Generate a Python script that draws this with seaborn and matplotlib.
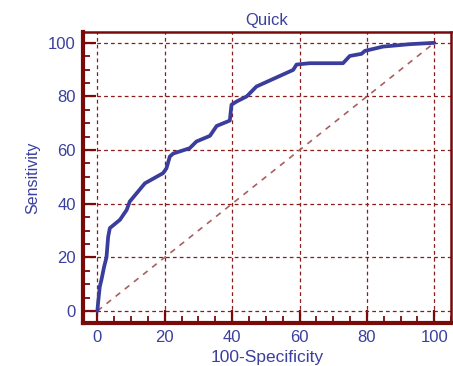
import matplotlib
matplotlib.use("Agg")
import matplotlib.pyplot as plt
import seaborn as sns
import pandas as pd
from matplotlib.ticker import MultipleLocator

sns.set_style("white")
plt.rcParams['font.family'] = ['Liberation Sans', 'DejaVu Sans']

# ROC curve points
fpr = [0, 0.2, 0.7, 1.2, 2.0, 2.7, 3.2, 3.7, 6.7, 8.7, 9.6, 14.1, 19.5, 20.5,
       21.5, 22.5, 27.4, 29.4, 33.4, 35.4, 39.3, 39.8, 41.3, 44.3, 47.2,
       58.1, 59.1, 63.0, 72.9, 74.9, 78.4, 79.4, 84.8, 92.7, 100]
tpr = [0, 2.9, 9.0, 11.6, 16.5, 20.0, 27.7, 30.9, 34.0, 37.7, 40.8, 47.6, 51.4, 53.2,
       57.6, 58.7, 60.7, 63.2, 65.3, 69.0, 71.0, 76.9, 78.1, 80.0, 83.7,
       89.9, 91.9, 92.4, 92.4, 95.1, 95.9, 97.0, 98.6, 99.5, 100]
diag = [0, 100]
ticks = [0, 20, 40, 60, 80, 100]

title = "Quick"
xlabel = "100-Specificity"
ylabel = "Sensitivity"

blue = "#3a3d9c"
dred = "#7a0a0a"
gridc = "#8a1c1c"
diagc = "#a86060"
textc = "#3b3f9e"

fig = plt.figure(figsize=(4.53, 3.66), dpi=100)
ax = fig.add_axes([0.183, 0.1175, 0.813, 0.7955])

df = pd.DataFrame({"x": fpr, "y": tpr})
ddf = pd.DataFrame({"x": diag, "y": diag})

ax.set_xlim(-4.3, 105)
ax.set_ylim(-4.5, 104.1)
ax.set_xticks(ticks)
ax.set_yticks(ticks)
ax.xaxis.set_minor_locator(MultipleLocator(5))
ax.yaxis.set_minor_locator(MultipleLocator(5))
ax.grid(True, which="major", color=gridc, linestyle=(0, (3, 2.5)), linewidth=0.9)
ax.set_axisbelow(True)

sns.lineplot(data=ddf, x="x", y="y", ax=ax, color=diagc, linewidth=1.2,
             linestyle=(0, (3.5, 3.5)), sort=False, estimator=None)
sns.lineplot(data=df, x="x", y="y", ax=ax, color=blue, linewidth=2.7,
             sort=False, estimator=None, solid_joinstyle="round")

for s in ["left", "bottom"]:
    ax.spines[s].set_color(dred)
    ax.spines[s].set_linewidth(3.0)
for s in ["top", "right"]:
    ax.spines[s].set_color(dred)
    ax.spines[s].set_linewidth(1.8)

ax.tick_params(which="both", bottom=True, left=True, top=False, right=False)
ax.tick_params(which="major", direction="in", length=9.5, width=1.6, color=dred,
               labelsize=12, labelcolor=textc, pad=5)
ax.tick_params(which="minor", direction="in", length=5, width=1.3, color=dred)

ax.set_title(title, color=textc, fontsize=12, pad=5)
ax.set_xlabel(xlabel, color=textc, fontsize=12.5, labelpad=4)
ax.set_ylabel(ylabel, color=textc, fontsize=11.5, labelpad=6)

fig.savefig("out.png", dpi=100)
